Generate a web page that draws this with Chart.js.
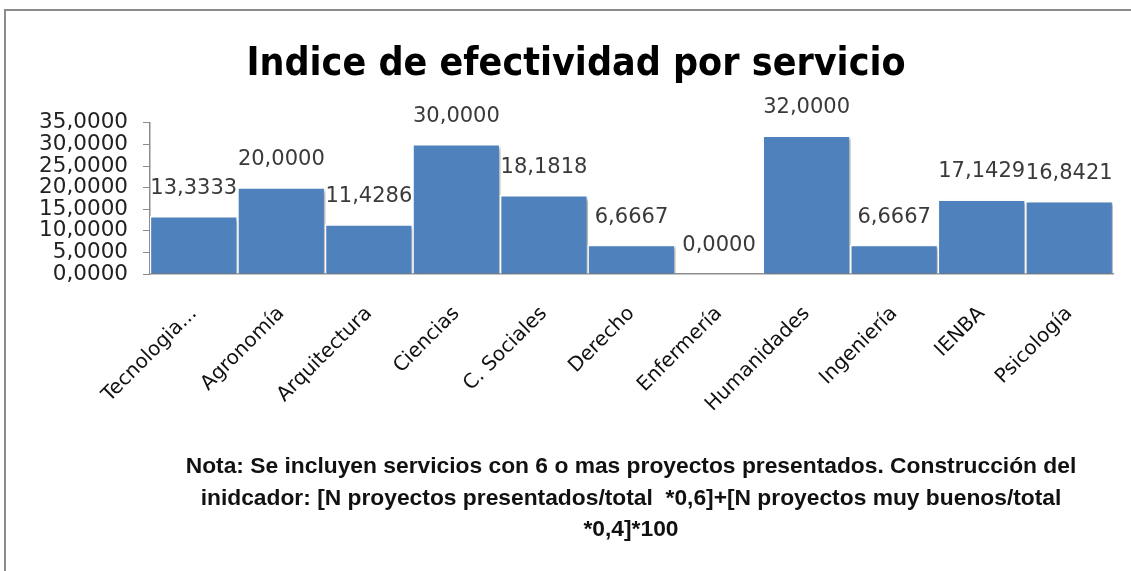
<!DOCTYPE html>
<html>
<head>
<meta charset="utf-8">
<script src="https://cdn.jsdelivr.net/npm/chart.js@4.4.0/dist/chart.umd.min.js"></script>
<style>
  html, body { margin: 0; padding: 0; background: #fff; }
  #wrap { position: relative; width: 1131px; height: 571px; overflow: hidden; }
  #frame { position: absolute; left: 4px; top: 9px; width: 1200px; height: 700px;
           border-top: 2px solid #8c8c8c; border-left: 2px solid #8c8c8c; }
  canvas { position: absolute; left: 0; top: 0; }
</style>
</head>
<body>
<div id="wrap">
  <div id="frame"></div>
  <canvas id="chart" width="1131" height="571"></canvas>
</div>
<script>
// datos del grafico
const servicios = ['Tecnologia...', 'Agronomía', 'Arquitectura', 'Ciencias', 'C. Sociales', 'Derecho',
  'Enfermería', 'Humanidades', 'Ingeniería', 'IENBA', 'Psicología'];
const indices = [13.3333, 20.0000, 11.4286, 30.0000, 18.1818, 6.6667, 0.0000, 32.0000, 6.6667, 17.1429, 16.8421];
const ticksY = [0, 5, 10, 15, 20, 25, 30, 35];
const titulo = 'Indice de efectividad por servicio';
const nota = [
  'Nota: Se incluyen servicios con 6 o mas proyectos presentados. Construcción del',
  'inidcador: [N proyectos presentados/total  *0,6]+[N proyectos muy buenos/total',
  '*0,4]*100'
];

const fmt = v => v.toFixed(4).replace('.', ',');

// sombra suave debajo de las barras
const sombra = {
  id: 'sombra',
  beforeDatasetsDraw(chart) {
    const ctx = chart.ctx;
    ctx.save();
    ctx.shadowColor = 'rgba(0,0,0,0.35)';
    ctx.shadowOffsetX = 2;
    ctx.shadowOffsetY = 2;
    ctx.shadowBlur = 3;
  },
  afterDatasetsDraw(chart) {
    chart.ctx.restore();
  }
};

// etiquetas de valor encima de cada barra
const etiquetas = {
  id: 'etiquetas',
  afterDatasetsDraw(chart) {
    const ctx = chart.ctx;
    const meta = chart.getDatasetMeta(0);
    ctx.save();
    ctx.font = '21px "DejaVu Sans", sans-serif';
    ctx.fillStyle = '#3a3a3a';
    ctx.textAlign = 'center';
    ctx.textBaseline = 'middle';
    meta.data.forEach((bar, i) => {
      ctx.fillText(fmt(indices[i]), bar.x, bar.y - 28);
    });
    ctx.restore();
  }
};

// nota al pie
const notaPie = {
  id: 'notaPie',
  afterDraw(chart) {
    const ctx = chart.ctx;
    ctx.save();
    ctx.font = 'bold 22.8px "Liberation Sans", sans-serif';
    ctx.fillStyle = '#111';
    ctx.textAlign = 'center';
    ctx.textBaseline = 'middle';
    nota.forEach((linea, i) => {
      ctx.fillText(linea, 631, 467 + i * 31.5);
    });
    ctx.restore();
  }
};

const ctx = document.getElementById('chart').getContext('2d');
new Chart(ctx, {
  type: 'bar',
  data: {
    labels: servicios,
    datasets: [{
      data: indices,
      backgroundColor: '#4F81BD',
      borderColor: '#ffffff',
      borderWidth: 1.5,
      categoryPercentage: 1,
      barPercentage: 1
    }]
  },
  options: {
    responsive: false,
    animation: false,
    layout: { padding: { left: 39, right: 18, top: 0, bottom: 0 } },
    plugins: {
      legend: { display: false },
      tooltip: { enabled: false },
      title: {
        display: true,
        text: titulo,
        color: '#000',
        font: { family: '"DejaVu Sans Condensed", "DejaVu Sans", sans-serif', size: 39, weight: 'bold' },
        padding: { top: 41, bottom: 35 }
      }
    },
    scales: {
      x: {
        grid: { display: false, drawTicks: false },
        border: { color: '#8c8c8c', width: 1.5 },
        ticks: {
          color: '#111',
          font: { family: '"DejaVu Sans", sans-serif', size: 20 },
          maxRotation: 45,
          minRotation: 45,
          autoSkip: false,
          padding: 28
        },
        afterFit(scale) { scale.height = 297; }
      },
      y: {
        min: 0,
        max: 35,
        afterBuildTicks(scale) { scale.ticks = ticksY.map(v => ({ value: v })); },
        grid: { drawOnChartArea: false, tickLength: 7, color: '#8c8c8c' },
        border: { color: '#8c8c8c', width: 1.5 },
        ticks: {
          color: '#222',
          font: { family: '"DejaVu Sans", sans-serif', size: 21.5 },
          padding: 15,
          autoSkip: false,
          callback: v => fmt(v)
        },
        afterFit(scale) { scale.width = 111; }
      }
    }
  },
  plugins: [sombra, etiquetas, notaPie]
});
</script>
</body>
</html>
